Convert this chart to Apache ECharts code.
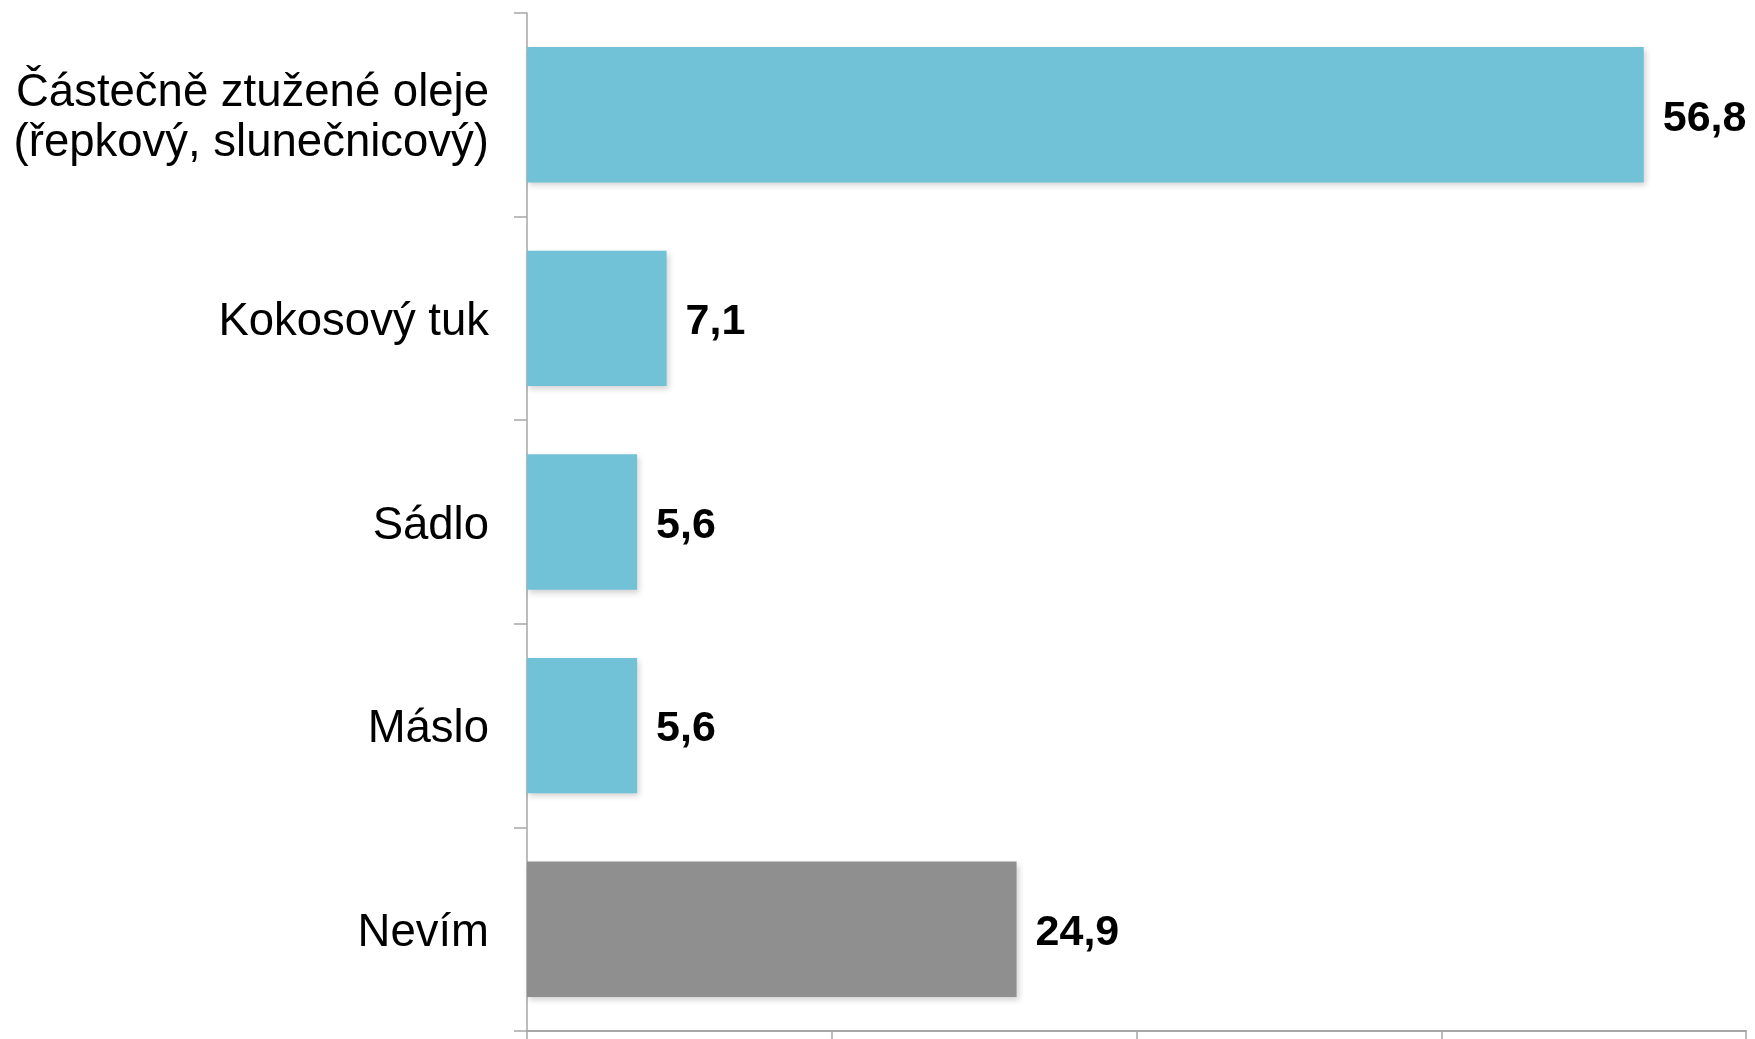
<!DOCTYPE html>
<html>
<head>
<meta charset="utf-8">
<script src="https://cdn.jsdelivr.net/npm/echarts@6/dist/echarts.min.js"></script>
<style>
html,body{margin:0;padding:0;background:#fff;}
#chart{width:1755px;height:1039px;}
</style>
</head>
<body>
<div id="chart"></div>
<script>
const categories = ['Částečně ztužené oleje\n(řepkový, slunečnicový)', 'Kokosový tuk', 'Sádlo', 'Máslo', 'Nevím'];
const values = [56.8, 7.1, 5.6, 5.6, 24.9];
const barColors = ['#72c2d7', '#72c2d7', '#72c2d7', '#72c2d7', '#8f8f8f'];

const chart = echarts.init(document.getElementById('chart'));
chart.setOption({
  animation: false,
  backgroundColor: '#ffffff',
  grid: { left: 527, right: 9, top: 13, bottom: 8, containLabel: false },
  xAxis: {
    type: 'value', min: 0, max: 62, interval: 15.5,
    splitLine: { show: false },
    axisLabel: { show: false },
    axisLine: { show: true, lineStyle: { color: '#a6a6a6', width: 2 } },
    axisTick: { show: true, length: 10, lineStyle: { color: '#a6a6a6', width: 1.5 } }
  },
  yAxis: {
    type: 'category', inverse: true, data: categories,
    axisLine: { show: true, lineStyle: { color: '#a6a6a6', width: 1.5 } },
    axisTick: { show: true, length: 13, lineStyle: { color: '#a6a6a6', width: 1.5 } },
    axisLabel: {
      margin: 38, color: '#000', align: 'right',
      formatter: v => v.split('\n').map(s => '{a|' + s + '}').join('\n'),
      rich: { a: { fontSize: 45.5, lineHeight: 50, color: '#000', fontFamily: 'Liberation Sans, Arial, sans-serif', padding: [8, 0, 0, 0] } }
    }
  },
  series: [{
    type: 'bar',
    barCategoryGap: '33.5%',
    data: values.map((v, i) => ({ value: v, itemStyle: { color: barColors[i] } })),
    itemStyle: { shadowColor: 'rgba(0,0,0,0.18)', shadowBlur: 6, shadowOffsetX: 2, shadowOffsetY: 3 },
    label: {
      show: true, position: 'right', distance: 19, offset: [0, 4],
      fontSize: 43, fontWeight: 'bold', color: '#000',
      fontFamily: 'Liberation Sans, Arial, sans-serif',
      formatter: p => String(p.value).replace('.', ',')
    }
  }]
});
</script>
</body>
</html>
